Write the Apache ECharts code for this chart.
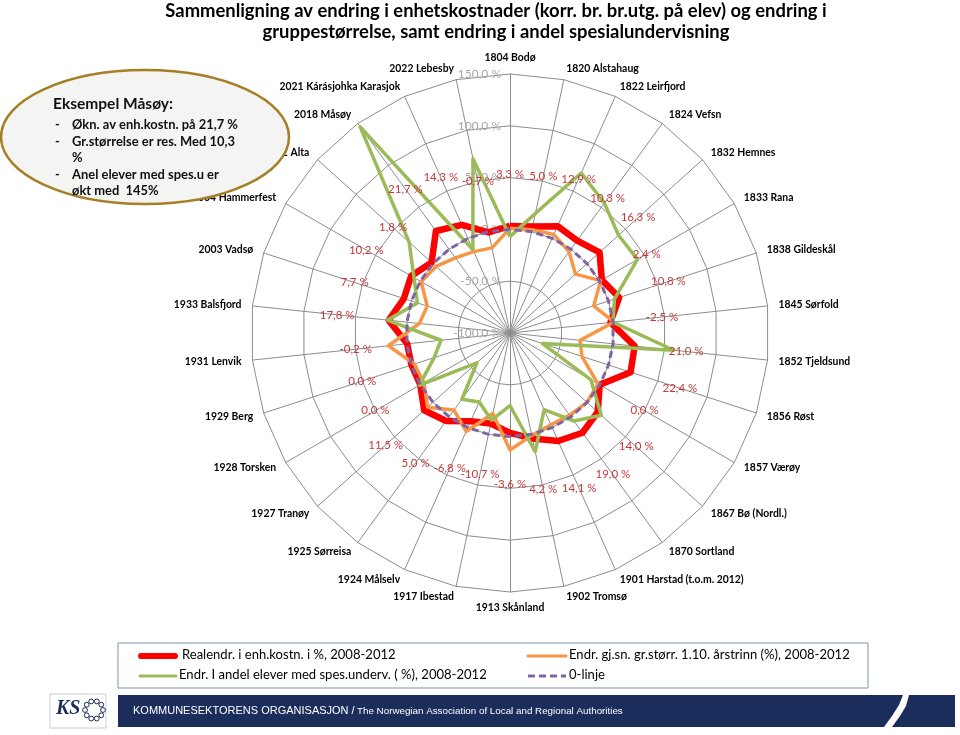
<!DOCTYPE html>
<html><head><meta charset="utf-8">
<script src="https://cdn.jsdelivr.net/npm/echarts@6/dist/echarts.min.js"></script>
<style>html,body{margin:0;padding:0;background:#fff}#c{width:960px;height:735px}</style>
</head><body><div id="c"></div>
<script>
const categories = ['1804 Bodø','1820 Alstahaug','1822 Leirfjord','1824 Vefsn','1832 Hemnes','1833 Rana','1838 Gildeskål','1845 Sørfold','1852 Tjeldsund','1856 Røst','1857 Værøy','1867 Bø (Nordl.)','1870 Sortland','1901 Harstad (t.o.m. 2012)','1902 Tromsø','1913 Skånland','1917 Ibestad','1924 Målselv','1925 Sørreisa','1927 Tranøy','1928 Torsken','1929 Berg','1931 Lenvik','1933 Balsfjord','2003 Vadsø','2004 Hammerfest','2012 Alta','2018 Måsøy','2021 Kárásjohka Karasjok','2022 Lebesby'];
const realEndr = [3.3,5.0,12.9,10.3,16.3,2.4,10.8,-2.5,21.0,22.4,0.0,14.0,19.0,14.1,4.2,-3.6,-10.7,-6.8,5.0,11.5,0.0,0.0,-0.2,17.8,7.7,10.2,1.8,21.7,14.3,-0.7];
const grStorr = [1,2,4,-3,-15,1,-15,1,-32,-27,-2,0,-2,-3,1,13,-20.5,4,-8,7,-4,-3,18,-12,-16,-1,-4,-10.3,-14,-16];
const spesUnderv = [-7,18,69,55,41,42,6,0,59,-67,-10,18.6,5,-19,17,-30,-14,-27,-21,-57,1,-23,-33,19,-6,7,31,146,-12,72];
const nullLinje = [0,0,0,0,0,0,0,0,0,0,0,0,0,0,0,0,0,0,0,0,0,0,0,0,0,0,0,0,0,0];
const axisMin = -100, axisMax = 150;
const seriesNames = ['Realendr. i enh.kostn. i %, 2008-2012','Endr. gj.sn. gr.størr. 1.10. årstrinn (%), 2008-2012','Endr. I andel elever med spes.underv. ( %), 2008-2012','0-linje'];
const labelOffset = 50; // data labels sit 50 units outside the red points
const titleLines = ['Sammenligning av endring i enhetskostnader (korr. br. br.utg. på elev) og endring i','gruppestørrelse, samt endring i andel spesialundervisning'];
const noteTitle = 'Eksempel Måsøy:';
const noteLines = ['Økn. av enh.kostn. på 21,7 %','Gr.størrelse er res. Med 10,3','%','Anel elever med spes.u er','økt med  145%'];

const FAM = 'Lato,"Open Sans",sans-serif';
const cnv = document.createElement('canvas').getContext('2d');
function fit(text, weight, target) {
  cnv.font = weight + ' 100px ' + FAM;
  return 100 * target / cnv.measureText(text).width;
}
const titleSize = fit(titleLines[0], 'bold', 662);
const nameSize = Math.min(12, fit('1901 Harstad (t.o.m. 2012)', 'bold', 124));
const noteSize = fit(noteLines[0], 'bold', 166);
const noteTitleSize = fit(noteTitle, 'bold', 120);
const legSize = fit(seriesNames[1], 'normal', 281);

const fmt = v => v.toFixed(1).replace('.', ',') + ' %';
// ECharts radar runs counter-clockwise; reverse (keeping first) to get clockwise order
const cw = a => [a[0]].concat(a.slice(1).reverse());

const cats = cw(categories);
const indicator = cats.map((n, i) => {
  const o = {name: n, min: axisMin, max: axisMax};
  if (i === 0) o.axisLabel = {show: true, color: '#a6a6a6', fontSize: 12, fontFamily: FAM, formatter: fmt, margin: 9};
  return o;
});

const colors = ['#ff0000', '#f79646', '#9bbb59', '#8064a2'];
const navy = '#1b2d5b';
const dots = [];
for (let k = 0; k < 10; k++) {
  const a = k * Math.PI / 5;
  dots.push({type: 'circle', z: 52, shape: {cx: 94 + 9 * Math.cos(a), cy: 710 + 9 * Math.sin(a), r: 2.4},
    style: {fill: '#fff', stroke: navy, lineWidth: 1}});
}

const chart = echarts.init(document.getElementById('c'));
chart.setOption({
  animation: false,
  title: {
    text: titleLines.join('\n'),
    left: 496, top: 1, padding: 0, textAlign: 'center',
    textStyle: {fontFamily: FAM, fontWeight: 'bold', fontSize: titleSize, lineHeight: 21, color: '#000'}
  },
  radar: {
    center: [510, 333], radius: 259, startAngle: 90, shape: 'polygon', splitNumber: 5,
    indicator: indicator,
    nameGap: 11,
    axisName: {color: '#000', fontWeight: 'bold', fontSize: nameSize, fontFamily: FAM},
    splitLine: {lineStyle: {color: '#8c8c8c', width: 1}},
    splitArea: {show: false},
    axisLine: {lineStyle: {color: '#8c8c8c', width: 1}},
    axisTick: {show: false},
    axisLabel: {show: false}
  },
  series: [
    {type: 'radar', name: seriesNames[0], symbol: 'none', z: 2,
     lineStyle: {color: colors[0], width: 6.5}, itemStyle: {color: colors[0]},
     data: [{name: seriesNames[0], value: cw(realEndr)}]},
    {type: 'radar', name: seriesNames[1], symbol: 'none', z: 3,
     lineStyle: {color: colors[1], width: 3.5}, itemStyle: {color: colors[1]},
     data: [{name: seriesNames[1], value: cw(grStorr)}]},
    {type: 'radar', name: seriesNames[2], symbol: 'none', z: 4,
     lineStyle: {color: colors[2], width: 3.5}, itemStyle: {color: colors[2]},
     data: [{name: seriesNames[2], value: cw(spesUnderv)}]},
    {type: 'radar', name: seriesNames[3], symbol: 'none', z: 5,
     lineStyle: {color: colors[3], width: 3, type: [7, 4]}, itemStyle: {color: colors[3]},
     data: [{name: seriesNames[3], value: cw(nullLinje)}]},
    {type: 'radar', name: 'labels', symbol: 'circle', symbolSize: 1, z: 6, silent: true,
     lineStyle: {opacity: 0, width: 0}, itemStyle: {color: 'rgba(0,0,0,0)'},
     label: {show: true, position: 'inside', color: '#c4393b', fontSize: 11.5, fontFamily: FAM,
       formatter: p => fmt(cw(realEndr)[p.dimensionIndex])},
     data: [{name: 'labels', value: cw(realEndr).map(v => v + labelOffset)}]}
  ],
  graphic: [
    {type: 'ellipse', z: 100, shape: {cx: 145, cy: 137, rx: 144, ry: 67},
     style: {fill: '#f4f4f2', stroke: '#a57f27', lineWidth: 2.5}},
    {type: 'text', z: 101, left: 53, top: 96,
     style: {text: noteTitle, font: 'bold ' + noteTitleSize.toFixed(2) + 'px ' + FAM, fill: '#111'}},
    {type: 'text', z: 101, left: 55, top: 117,
     style: {text: '-\n-\n\n-', font: 'bold ' + noteSize.toFixed(2) + 'px ' + FAM, lineHeight: 16.5, fill: '#111'}},
    {type: 'text', z: 101, left: 72, top: 117,
     style: {text: noteLines.join('\n'), font: 'bold ' + noteSize.toFixed(2) + 'px ' + FAM, lineHeight: 16.5, fill: '#111'}},
    // legend box
    {type: 'rect', z: 50, shape: {x: 118, y: 643, width: 750, height: 45}, style: {fill: '#fff', stroke: '#7f93ad', lineWidth: 1}},
    {type: 'line', z: 51, shape: {x1: 141, y1: 656, x2: 175, y2: 656}, style: {stroke: colors[0], lineWidth: 6, lineCap: 'round'}},
    {type: 'text', z: 51, left: 182, top: 648, style: {text: seriesNames[0], font: legSize.toFixed(2) + 'px ' + FAM, fill: '#000'}},
    {type: 'line', z: 51, shape: {x1: 140, y1: 676, x2: 176, y2: 676}, style: {stroke: colors[2], lineWidth: 3, lineCap: 'round'}},
    {type: 'text', z: 51, left: 179, top: 668, style: {text: seriesNames[2], font: legSize.toFixed(2) + 'px ' + FAM, fill: '#000'}},
    {type: 'line', z: 51, shape: {x1: 528, y1: 656, x2: 566, y2: 656}, style: {stroke: colors[1], lineWidth: 3, lineCap: 'round'}},
    {type: 'text', z: 51, left: 569, top: 648, style: {text: seriesNames[1], font: legSize.toFixed(2) + 'px ' + FAM, fill: '#000'}},
    {type: 'line', z: 51, shape: {x1: 528, y1: 676, x2: 566, y2: 676}, style: {stroke: colors[3], lineWidth: 3, lineDash: [7, 4]}},
    {type: 'text', z: 51, left: 569, top: 668, style: {text: seriesNames[3], font: legSize.toFixed(2) + 'px ' + FAM, fill: '#000'}},
    // footer
    {type: 'rect', z: 50, shape: {x: 118, y: 695, width: 837, height: 32}, style: {fill: navy}},
    {type: 'polygon', z: 51, shape: {points: [[903,695],[899,705],[892,716],[884,727],[892,727],[900,716],[906,706],[909,695]]}, style: {fill: '#fff'}},
    {type: 'text', z: 51, left: 133, top: 705, style: {text: 'KOMMUNESEKTORENS ORGANISASJON /', font: '11px "Liberation Sans",Arial,sans-serif', fill: '#fff'}},
    {type: 'text', z: 51, left: 357, top: 706, style: {text: 'The Norwegian Association of Local and Regional Authorities', font: '9.8px "Liberation Sans",Arial,sans-serif', fill: '#fff'}},
    {type: 'rect', z: 50, shape: {x: 50, y: 694, width: 56, height: 34}, style: {fill: '#fff', stroke: '#c8cdd8', lineWidth: 1}},
    {type: 'text', z: 51, left: 56, top: 699, style: {text: 'KS', font: 'italic bold 20px "Liberation Serif",serif', fill: navy}}
  ].concat(dots)
});
</script></body></html>
